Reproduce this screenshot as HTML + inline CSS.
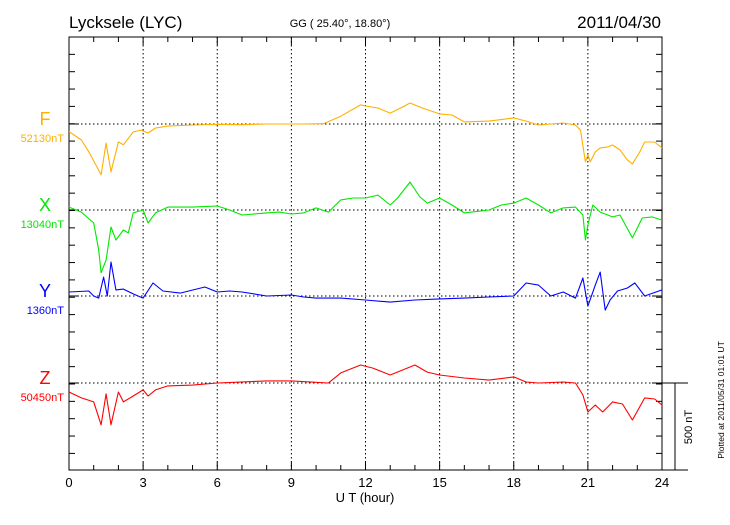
<!DOCTYPE html>
<html><head><meta charset="utf-8"><style>
body{margin:0;background:#fff;}
svg text{font-family:"Liberation Sans",sans-serif;}
</style></head><body>
<svg id="chart" width="730" height="520" xmlns="http://www.w3.org/2000/svg">
<rect width="730" height="520" fill="#fff"/>
<text x="69" y="28" font-size="17">Lycksele (LYC)</text>
<text x="340" y="27" font-size="11" text-anchor="middle">GG ( 25.40°,  18.80°)</text>
<text x="661" y="28" font-size="17" text-anchor="end">2011/04/30</text>
<g id="grid"></g>
<g id="axes"></g>
<g id="series"></g>
<g id="labels"></g>
<text x="365" y="502" font-size="13" text-anchor="middle">U T (hour)</text>
<line x1="662" y1="383" x2="688" y2="383" stroke="#000"/>
<line x1="662" y1="470" x2="688" y2="470" stroke="#000"/>
<line x1="675" y1="383" x2="675" y2="470" stroke="#000"/>
<text transform="translate(692,427) rotate(-90)" font-size="11" text-anchor="middle">500 nT</text>
<text transform="translate(724,400) rotate(-90)" font-size="8.5" text-anchor="middle">Plotted at 2011/05/31 01:01  UT</text>
</svg>
<script>
const xTicks = [0,3,6,9,12,15,18,21,24];
const seriesNames = ["F","X","Y","Z"];
const baseValues = ["52130nT","13040nT","1360nT","50450nT"];
const colors = ["#FFB000","#00E800","#0000FF","#FF0000"];
const fHours = [0,0.5,0.8,1.3,1.5,1.7,2.0,2.2,2.6,2.9,3.2,3.5,4,5,6,7,8,9,9.5,10.3,11,11.8,12,12.5,13,13.5,13.8,14.3,15,15.5,16,17,18,18.5,19,19.5,20,20.5,20.7,20.9,21.0,21.1,21.3,21.5,21.8,22,22.3,22.6,22.8,23.1,23.3,23.7,24];
const fValues = [-44,-92,-160,-293,-110,-276,-103,-120,-46,-35,-52,-23,-12,-6,-2,-4,0,0,0,2,45,110,104,92,63,98,121,92,58,52,12,17,35,17,-6,0,6,-6,-35,-218,-178,-218,-161,-138,-132,-121,-150,-207,-230,-161,-104,-104,-138];
const xHours = [0,0.5,1,1.2,1.3,1.5,1.7,1.9,2.2,2.4,2.6,3.0,3.2,3.5,4,5,6,6.5,7,8,8.5,9,9.5,10,10.5,11,11.5,12,12.5,13,13.3,13.8,14.2,14.5,15,15.5,16,17,17.5,18,18.5,19,19.5,20,20.5,20.8,20.9,21.0,21.2,21.5,22,22.3,22.8,23.2,23.6,24];
const xValues = [17,-12,-75,-230,-362,-288,-98,-173,-115,-132,-17,0,-75,-17,17,17,23,0,-29,-17,-12,-23,-17,12,-12,58,69,69,86,29,69,161,75,40,69,29,-17,0,29,40,69,29,-17,12,17,-29,-173,-86,29,-12,-40,-29,-161,-46,-40,-58];
const yHours = [0,0.8,1.0,1.2,1.4,1.55,1.7,1.9,2.2,2.6,3.0,3.4,3.8,4.5,5.5,6,6.5,7,8,9,9.5,10,11,12,13,14,15,16,17,18,18.5,19,19.5,20,20.5,20.8,21.0,21.3,21.5,21.7,21.9,22.2,22.6,22.9,23.3,24];
const yValues = [23,29,0,-12,109,0,196,35,40,12,-12,75,29,17,52,23,29,23,0,6,-6,-12,-12,-23,-35,-23,-17,-12,-6,0,75,63,0,23,-12,104,-58,63,138,-81,-23,29,46,75,0,35];
const zHours = [0,0.5,1.0,1.3,1.5,1.7,2.0,2.2,2.6,3.0,3.2,3.5,4,5,6,8,9,10.5,11,11.8,12.3,13,13.5,14,14.5,15,16,17,18,18.5,19,20,20.5,20.8,21.0,21.3,21.6,22,22.4,22.8,23.3,23.7,24];
const zValues = [-52,-86,-109,-241,-63,-241,-52,-109,-75,-40,-75,-40,-17,-12,0,12,12,0,58,104,86,46,75,104,63,46,29,17,35,6,0,6,0,-69,-167,-127,-167,-109,-121,-213,-86,-92,-127];

const NS="http://www.w3.org/2000/svg";
const X0=69,X1=662,Y0=37,Y1=470;
const baselines=[124,210,296,383];
const pxPer100=17.35;
function xs(h){return X0+(X1-X0)*h/24;}
function ys(i,v){return baselines[i]-v*pxPer100/100;}
function mk(tag,attrs,parent){const e=document.createElementNS(NS,tag);for(const k in attrs)e.setAttribute(k,attrs[k]);parent.appendChild(e);return e;}
const grid=document.getElementById('grid'),axes=document.getElementById('axes'),ser=document.getElementById('series'),lab=document.getElementById('labels');
for(let i=1;i<xTicks.length-1;i++){
  const l=mk('line',{x1:xs(xTicks[i]),x2:xs(xTicks[i]),y1:Y0,y2:Y1,stroke:'#000','stroke-dasharray':'1.5,2.5','stroke-width':1},grid);
  
  
}
baselines.forEach((b,i)=>{
  const l=mk('line',{x1:X0,x2:X1,y1:b,y2:b,stroke:'#000','stroke-dasharray':'1.5,2.5','stroke-width':1},grid);
  
  
});
const fr=mk('rect',{x:X0,y:Y0,width:X1-X0,height:Y1-Y0,fill:'none',stroke:'#000','stroke-width':1},axes);


for(let y=Y0;y<=Y1+0.5;y+=pxPer100){
  mk('line',{x1:X0,x2:X0+6,y1:y,y2:y,stroke:'#000'},axes);
  mk('line',{x1:X1,x2:X1-6,y1:y,y2:y,stroke:'#000'},axes);
}
baselines.forEach(b=>{mk('line',{x1:X0,x2:X0+10,y1:b,y2:b,stroke:'#000'},axes);mk('line',{x1:X1,x2:X1-10,y1:b,y2:b,stroke:'#000'},axes);});
for(let h=0;h<=24;h++){
  const len=h%3===0?8:5;
  mk('line',{x1:xs(h),x2:xs(h),y1:Y1,y2:Y1-len,stroke:'#000'},axes);
  mk('line',{x1:xs(h),x2:xs(h),y1:Y0,y2:Y0+len,stroke:'#000'},axes);
}
xTicks.forEach(t=>{
  const tx=mk('text',{x:xs(t),y:487,'font-size':13,'text-anchor':'middle'},axes);
  tx.textContent=t;
  
  
});
const H=[fHours,xHours,yHours,zHours],V=[fValues,xValues,yValues,zValues];
for(let i=0;i<4;i++){
  const pts=H[i].map((h,j)=>xs(h).toFixed(1)+','+ys(i,V[i][j]).toFixed(1)).join(' ');
  const p=mk('polyline',{points:pts,fill:'none',stroke:colors[i],'stroke-width':1.1,'stroke-linejoin':'round'},ser);
  
  
  const n=mk('text',{x:45,y:baselines[i]+1,'font-size':18,'text-anchor':'middle',fill:colors[i]},lab);
  n.textContent=seriesNames[i];
  
  
  const bv=mk('text',{x:64,y:baselines[i]+18,'font-size':11,'text-anchor':'end',fill:colors[i]},lab);
  bv.textContent=baseValues[i];
  
  
}
</script>
</body></html>
